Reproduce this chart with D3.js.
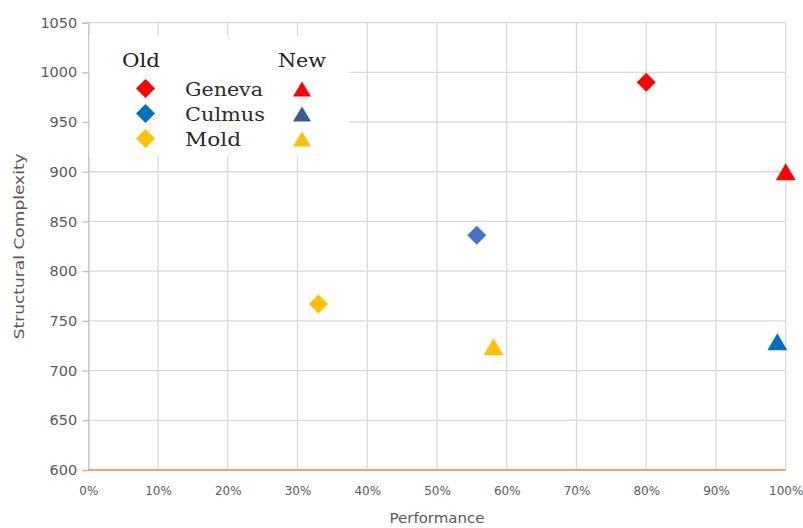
<!DOCTYPE html>
<html>
<head>
<meta charset="utf-8">
<script src="https://cdn.jsdelivr.net/npm/d3@7"></script>
<style>
  body { margin: 0; background: #fff; }
  svg { display: block; }
  .tick text { fill: #595959; font-family: 'DejaVu Sans', sans-serif; }
</style>
</head>
<body>
<svg class="chart" width="803" height="528"></svg>
<script>
// Data
const systems = ['Geneva', 'Culmus', 'Mold'];
const oldPerformance = [0.80, 0.557, 0.33];
const oldComplexity = [990, 836, 767];
const newPerformance = [1.0, 0.988, 0.581];
const newComplexity = [900, 729, 724];
const oldColors = ['#ff0000', '#4472c4', '#ffc000'];
const newColors = ['#ff0000', '#0070c0', '#ffc000'];
const legendOldColors = ['#ff0000', '#0070c0', '#ffc000'];
const legendNewColors = ['#ff0000', '#3a5b8f', '#ffc000'];
const xTicks = [0, 0.1, 0.2, 0.3, 0.4, 0.5, 0.6, 0.7, 0.8, 0.9, 1.0];
const yTicks = [600, 650, 700, 750, 800, 850, 900, 950, 1000, 1050];

const width = 803, height = 528;
const margin = { top: 22.6, right: 17.3, bottom: 58, left: 88.3 };

const svg = d3.select('.chart');

const x = d3.scaleLinear().domain([0, 1]).range([margin.left, width - margin.right]);
const y = d3.scaleLinear().domain([600, 1050]).range([height - margin.bottom, margin.top]);

// Gridlines
const grid = svg.append('g').attr('class', 'grid');
grid.selectAll('line.h')
  .data(yTicks.filter(d => d > 600))
  .join('line')
  .attr('class', 'h')
  .attr('x1', x(0)).attr('x2', x(1))
  .attr('y1', d => y(d)).attr('y2', d => y(d))
  .attr('stroke', '#d9d9d9').attr('stroke-width', 1.3);
grid.selectAll('line.v')
  .data(xTicks.filter(d => d > 0))
  .join('line')
  .attr('class', 'v')
  .attr('y1', y(600)).attr('y2', y(1050))
  .attr('x1', d => x(d)).attr('x2', d => x(d))
  .attr('stroke', '#d9d9d9').attr('stroke-width', 1.3);

// Y axis
const yAxis = svg.append('g')
  .attr('transform', `translate(${margin.left},0)`)
  .call(d3.axisLeft(y).tickValues(yTicks).tickFormat(d3.format('d')).tickSize(6).tickPadding(5));
yAxis.select('.domain').attr('stroke', '#bfbfbf').attr('stroke-width', 1.3);
yAxis.selectAll('.tick line').attr('stroke', '#bfbfbf').attr('stroke-width', 1.3);
yAxis.selectAll('.tick text').attr('font-size', 14.5);

// X axis (labels only, baseline drawn in orange)
const xAxis = svg.append('g')
  .attr('transform', `translate(0,${y(600)})`)
  .call(d3.axisBottom(x).tickValues(xTicks).tickFormat(d3.format('.0%')).tickSize(0).tickPadding(16));
xAxis.select('.domain').remove();
xAxis.selectAll('.tick text').attr('font-size', 12);

svg.append('line')
  .attr('x1', x(0)).attr('x2', x(1))
  .attr('y1', y(600)).attr('y2', y(600))
  .attr('stroke', '#f2a46a').attr('stroke-width', 2);

// Axis titles
svg.append('text')
  .attr('x', (x(0) + x(1)) / 2).attr('y', 523)
  .attr('text-anchor', 'middle')
  .attr('font-family', 'DejaVu Sans, sans-serif').attr('font-size', 14)
  .attr('textLength', 95).attr('lengthAdjust', 'spacingAndGlyphs')
  .attr('fill', '#595959')
  .text('Performance');
svg.append('text')
  .attr('transform', `translate(24,${(y(600) + y(1050)) / 2}) rotate(-90)`)
  .attr('text-anchor', 'middle')
  .attr('font-family', 'DejaVu Sans, sans-serif').attr('font-size', 14)
  .attr('textLength', 186).attr('lengthAdjust', 'spacingAndGlyphs')
  .attr('fill', '#595959')
  .text('Structural Complexity');

// Marker shapes
const diamond = s => `M0,${-s}L${s},0L0,${s}L${-s},0Z`;
const triangle = (w, h) => `M0,${-h / 2}L${w / 2},${h / 2}L${-w / 2},${h / 2}Z`;

// Legend box (covers gridlines)
const legend = svg.append('g').attr('class', 'legend');
legend.append('rect')
  .attr('x', 89.5).attr('y', 36).attr('width', 260).attr('height', 120)
  .attr('fill', '#fff');

const legendFont = 'DejaVu Serif, serif';
legend.append('text')
  .attr('x', 141).attr('y', 67).attr('text-anchor', 'middle')
  .attr('font-family', legendFont).attr('font-size', 19).attr('fill', '#222')
  .attr('textLength', 38).attr('lengthAdjust', 'spacingAndGlyphs')
  .text('Old');
legend.append('text')
  .attr('x', 302).attr('y', 67).attr('text-anchor', 'middle')
  .attr('font-family', legendFont).attr('font-size', 19).attr('fill', '#222')
  .attr('textLength', 48).attr('lengthAdjust', 'spacingAndGlyphs')
  .text('New');

const legendY = [88.5, 113.5, 138.5];
const legendNameWidth = [78, 80, 56];
systems.forEach((name, i) => {
  legend.append('path')
    .attr('d', diamond(9.5))
    .attr('transform', `translate(145.5,${legendY[i]})`)
    .attr('fill', legendOldColors[i]);
  legend.append('path')
    .attr('d', triangle(18, 15))
    .attr('transform', `translate(302,${legendY[i] + 0.5})`)
    .attr('fill', legendNewColors[i]);
  legend.append('text')
    .attr('x', 185).attr('y', legendY[i] + 7)
    .attr('font-family', legendFont).attr('font-size', 19).attr('fill', '#2a2a2a')
    .attr('textLength', legendNameWidth[i]).attr('lengthAdjust', 'spacingAndGlyphs')
    .text(name);
});

// Points
const points = svg.append('g').attr('class', 'points');
points.selectAll('path.old')
  .data(systems)
  .join('path')
  .attr('class', 'old')
  .attr('d', diamond(9.5))
  .attr('transform', (d, i) => `translate(${x(oldPerformance[i])},${y(oldComplexity[i])})`)
  .attr('fill', (d, i) => oldColors[i]);
points.selectAll('path.new')
  .data(systems)
  .join('path')
  .attr('class', 'new')
  .attr('d', triangle(20, 17))
  .attr('transform', (d, i) => `translate(${x(newPerformance[i])},${y(newComplexity[i])})`)
  .attr('fill', (d, i) => newColors[i]);
</script>
</body>
</html>
